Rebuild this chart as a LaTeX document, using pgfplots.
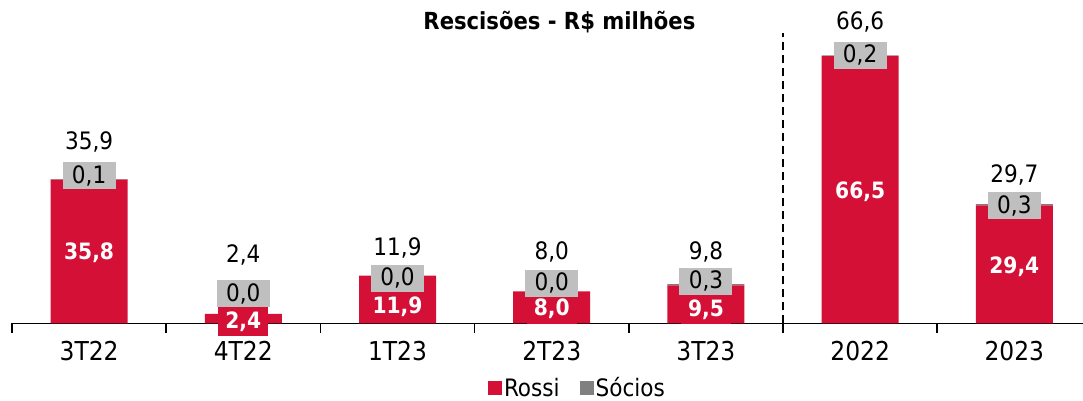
\documentclass[border=0pt]{standalone}
\usepackage{pgfplots}
\pgfplotsset{compat=1.18}
\usepackage{pgfplotstable}
\usepackage{fontspec}
\setmainfont{DejaVu Sans Condensed}
\definecolor{rossi}{HTML}{D51037}
\definecolor{socio}{HTML}{808080}
\definecolor{lbl}{HTML}{BFBFBF}

\pgfplotstableread{
x rossi socios
0 35.8 0.1
1 2.4 0.0
2 11.9 0.0
3 8.0 0.0
4 9.5 0.3
5 66.5 0.2
6 29.4 0.3
}\bars

% label positions (data units) and texts
\pgfplotstableread{
x rpos rlab spos slab tpos tlab
0 17.5 35,8 36.8 0,1 45.1 35,9
1 0.55 2,4 7.46 0,0 17.0 2,4
2 4.18 11,9 11.24 0,0 18.8 11,9
3 3.6 8,0 10.0 0,0 17.9 8,0
4 3.36 9,5 10.5 0,3 17.9 9,8
5 32.8 66,5 66.67 0,2 75.0 66,6
6 14.0 29,4 29.35 0,3 36.9 29,7
}\labels

\begin{document}
\begin{tikzpicture}
\pgfplotsset{
  common/.style={
    scale only axis, width=1071pt, height=323.5pt,
    xmin=-0.5, xmax=6.445, ymin=0, ymax=80.47,
  }
}
\begin{axis}[
  common,
  ybar stacked, bar width=77pt,
  axis x line=bottom, axis y line=none,
  x axis line style={-, black, line width=1.6pt},
  xtick={0,...,6},
  xticklabels={3T22,4T22,1T23,2T23,3T23,2022,2023},
  major tick length=0pt,
  minor xtick={-0.5,0.5,1.5,2.5,3.5,4.5,5.5},
  minor tick length=9pt,
  tick align=outside,
  every minor tick/.append style={black, line width=1.5pt},
  xticklabel style={font=\fontsize{26}{30}\selectfont, yshift=-14pt},
  legend style={draw=none, at={(0.528,-0.199)}, anchor=center,
    legend columns=2, font=\fontsize{24}{28}\selectfont,
    /tikz/every even column/.append style={column sep=18pt},
    legend cell align=left, inner sep=0pt},
  legend image code/.code={\fill[#1] (0pt,-7pt) rectangle (14pt,7pt);},
  clip=false,
]
\addplot[fill=rossi, draw=none] table[x=x, y=rossi] {\bars};
\addlegendentry{Rossi}
\addplot[fill=socio, draw=none] table[x=x, y=socios] {\bars};
\addlegendentry{Sócios}
\draw[black, line width=1.6pt, dash pattern=on 8pt off 5pt] (axis cs:4.5,0) -- (axis cs:4.5,72.3);
\node[font=\bfseries\fontsize{23.5}{28}\selectfont] at (axis cs:3.05,75.0) {Rescisões - R\$ milhões};
\end{axis}
\begin{axis}[
  common, hide axis, clip=false,
]
\addplot[only marks, mark=none, nodes near coords, point meta=explicit symbolic,
  nodes near coords style={anchor=center, fill=rossi, text=white, inner sep=0pt,
    minimum width=50pt, minimum height=29pt, font=\bfseries\fontsize{22.5}{26}\selectfont}]
  table[x=x, y=rpos, meta=rlab] {\labels};
\addplot[only marks, mark=none, nodes near coords, point meta=explicit symbolic,
  nodes near coords style={anchor=center, fill=lbl, text=black, inner sep=0pt,
    minimum width=53pt, minimum height=27pt, font=\fontsize{24}{28}\selectfont}]
  table[x=x, y=spos, meta=slab] {\labels};
\addplot[only marks, mark=none, nodes near coords, point meta=explicit symbolic,
  nodes near coords style={anchor=center, text=black, inner sep=0pt,
    font=\fontsize{24}{28}\selectfont}]
  table[x=x, y=tpos, meta=tlab] {\labels};
\end{axis}
\pgfresetboundingbox
\useasboundingbox (-12pt,-77.5pt) rectangle (1071pt,323.5pt);
\end{tikzpicture}
\end{document}
